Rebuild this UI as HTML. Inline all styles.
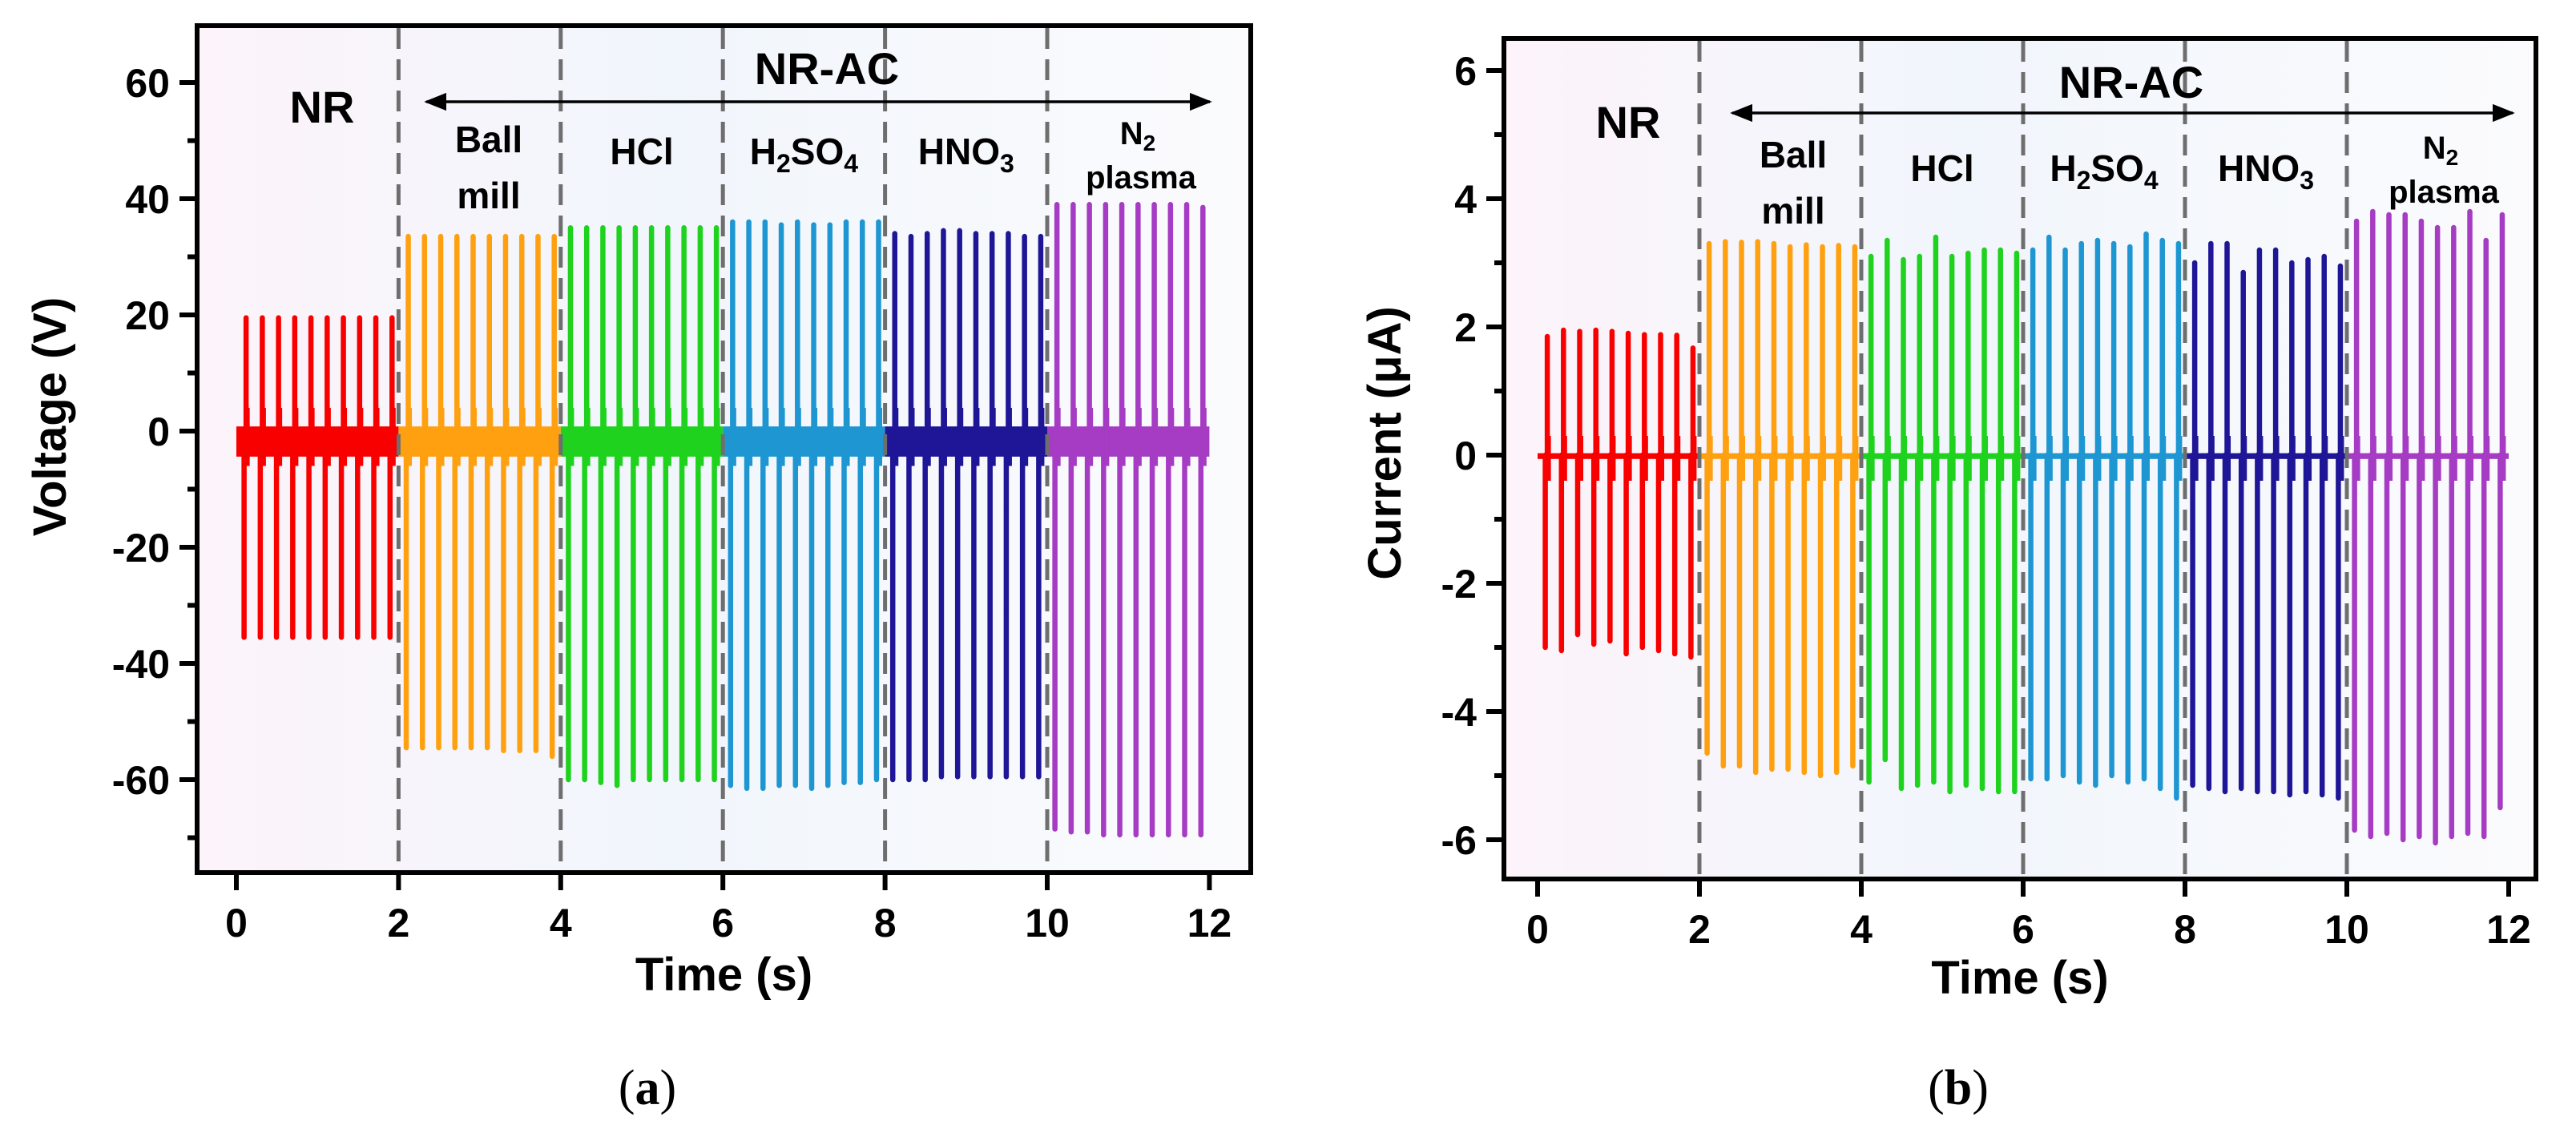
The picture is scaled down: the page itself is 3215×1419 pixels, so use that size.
<!DOCTYPE html>
<html><head><meta charset="utf-8">
<style>
html,body{margin:0;padding:0;background:#fff;}
svg{display:block;}
text{font-family:"Liberation Sans",Arial,sans-serif;font-weight:bold;fill:#000;}
.cap{font-family:"Liberation Serif",serif;}
</style></head>
<body>
<svg id="fig" width="3215" height="1419" viewBox="0 0 3215 1419" xmlns="http://www.w3.org/2000/svg">
<defs>
<linearGradient id="bg" x1="0" y1="0" x2="1" y2="0">
<stop offset="0" stop-color="#fcf4fa"/><stop offset="0.45" stop-color="#f1f6fc"/><stop offset="1" stop-color="#fbfbfd"/>
</linearGradient>
<marker id="arr" viewBox="0 0 10 10" refX="9" refY="5" markerWidth="8" markerHeight="8" orient="auto-start-reverse"><path d="M0,1 L10,5 L0,9 z" fill="#000"/></marker>
</defs>
<g id="pa"></g>
<g id="pb"></g>
</svg>
<script>
// ---- data ----
const segmentLabels = ["NR","Ball mill","HCl","H2SO4","HNO3","N2 plasma"];
const segmentColors = ["#f80000","#ffa010","#1ed21e","#1e96d2","#1e1696","#a53cc3"];
const pulseTimes = [0.12,0.32,0.52,0.72,0.92,1.12,1.32,1.52,1.72,1.92];
const xTicks = [0,2,4,6,8,10,12];
// Panel a (Voltage, V)
const voltPos = [
 [19.5,19.5,19.5,19.5,19.5,19.5,19.5,19.5,19.5,19.5],
 [33.5,33.5,33.5,33.5,33.5,33.5,33.5,33.5,33.5,33.5],
 [35,35,35,35,35,35,35,35,35,35],
 [36,36,36,35.5,36,35.5,35.5,36,36,36],
 [34,33.5,34,34.5,34.5,34,34,34,33.5,33.5],
 [39,39,39,39,39,39,39,39,39,38.5]];
const voltNeg = [
 [-35.5,-35.5,-35.5,-35.5,-35.5,-35.5,-35.5,-35.5,-35.5,-35.5],
 [-54.5,-54.5,-54.5,-54.5,-54.5,-54.5,-55,-55,-55,-56],
 [-60,-60,-60.5,-61,-60,-60,-60,-60,-60,-60],
 [-61,-61.5,-61.5,-61,-61,-61.5,-61,-60.5,-60.5,-60],
 [-60,-60,-60,-59.5,-59.5,-59.5,-59.5,-59.5,-59.5,-59.5],
 [-68.5,-69,-69,-69.5,-69.5,-69.5,-69.5,-69.5,-69.5,-69.5]];
const voltTicks = [60,40,20,0,-20,-40,-60];
// Panel b (Current, uA)
const curPos = [
 [1.85,1.95,1.93,1.95,1.93,1.9,1.88,1.88,1.87,1.67],
 [3.3,3.33,3.32,3.33,3.3,3.25,3.28,3.25,3.27,3.25],
 [3.1,3.35,3.05,3.1,3.4,3.1,3.15,3.2,3.2,3.15],
 [3.2,3.4,3.2,3.3,3.35,3.3,3.25,3.45,3.35,3.3],
 [3.0,3.3,3.3,2.85,3.2,3.2,3.0,3.05,3.1,2.95],
 [3.65,3.8,3.75,3.75,3.65,3.55,3.55,3.8,3.35,3.75]];
const curNeg = [
 [-3.0,-3.05,-2.8,-2.95,-2.9,-3.1,-3.0,-3.05,-3.1,-3.15],
 [-4.65,-4.85,-4.85,-4.95,-4.9,-4.9,-4.95,-5.0,-4.95,-4.85],
 [-5.1,-4.75,-5.2,-5.15,-5.1,-5.25,-5.15,-5.2,-5.25,-5.25],
 [-5.05,-5.05,-5.0,-5.1,-5.15,-5.0,-5.1,-5.05,-5.2,-5.35],
 [-5.15,-5.2,-5.25,-5.2,-5.25,-5.25,-5.3,-5.25,-5.3,-5.35],
 [-5.85,-5.95,-5.9,-6.0,-5.95,-6.05,-5.95,-5.9,-5.95,-5.5]];
const curTicks = [6,4,2,0,-2,-4,-6];

const NS="http://www.w3.org/2000/svg";
function mk(parent,tag,attrs,txt){const e=document.createElementNS(NS,tag);for(const k in attrs)e.setAttribute(k,attrs[k]);if(txt!==undefined)e.textContent=txt;parent.appendChild(e);return e;}

function panel(g,cfg){
 const sx=t=>cfg.x0+t*cfg.kx, sy=v=>cfg.y0-v*cfg.ky;
 const L=cfg.left,R=cfg.right,T=cfg.top,B=cfg.bottom;
 const bgr=mk(g,'rect',{x:L,y:T,width:R-L,height:B-T,fill:'url(#bg)'});
 
 
 for(let s=0;s<6;s++){
  const col=segmentColors[s];
  const sg=mk(g,'g',{});
  
  
  const t0=s*2;
  const band=mk(sg,'rect',{x:sx(t0+0.0),y:sy(cfg.bandHi),width:sx(t0+2)-sx(t0),height:sy(cfg.bandLo)-sy(cfg.bandHi),fill:col});
  
  
  for(let i=0;i<pulseTimes.length;i++){
   const t=t0+pulseTimes[i];
   const p=cfg.pos[s][i], n=cfg.neg[s][i];
   const lp=mk(sg,'line',{x1:sx(t),x2:sx(t),y1:sy(0),y2:sy(p),stroke:col,'stroke-width':6.5,'stroke-linecap':'round'});
   
   
   const ln=mk(sg,'line',{x1:sx(t-0.025),x2:sx(t-0.025),y1:sy(0),y2:sy(n),stroke:col,'stroke-width':6.5,'stroke-linecap':'round'});
   
   
   mk(sg,'line',{x1:sx(t+0.015),x2:sx(t+0.015),y1:sy(cfg.shoulder[0]),y2:sy(cfg.shoulder[1]),stroke:col,'stroke-width':6});
  }
 }
 for(const d of [2,4,6,8,10]){
  const l=mk(g,'line',{x1:sx(d),x2:sx(d),y1:T+3,y2:B-3,stroke:'#6e6e6e','stroke-width':5,'stroke-dasharray':'26 13'});
  
  
 }
 const fr=mk(g,'rect',{x:L,y:T,width:R-L,height:B-T,fill:'none',stroke:'#000','stroke-width':6});
 
 
 for(const t of xTicks){
  mk(g,'line',{x1:sx(t),x2:sx(t),y1:B,y2:B+22,stroke:'#000','stroke-width':6});
  const tl=mk(g,'text',{x:sx(t),y:B+80,'text-anchor':'middle','font-size':50},String(t));
  
  
 }
 for(const v of cfg.ticks){
  mk(g,'line',{x1:L-22,x2:L,y1:sy(v),y2:sy(v),stroke:'#000','stroke-width':6});
  const yl=mk(g,'text',{x:L-34,y:sy(v)+18,'text-anchor':'end','font-size':50},String(v));
  
  
 }
 for(const v of cfg.minor){mk(g,'line',{x1:L-12,x2:L,y1:sy(v),y2:sy(v),stroke:'#000','stroke-width':6});}
 const xt=mk(g,'text',{x:(L+R)/2,y:cfg.xTitleY,'text-anchor':'middle','font-size':58},'Time (s)');
 
 
 const yt=mk(g,'text',{x:0,y:0,'text-anchor':'middle','font-size':58,transform:`translate(${cfg.yTitleX},${cfg.yTitleY}) rotate(-90)`},cfg.yTitle);
 
 
 const cp=mk(g,'text',{x:cfg.capX,y:1378,'text-anchor':'middle','font-size':62,'font-weight':'normal',class:'cap'},'');
 
 
 cp.innerHTML='<tspan font-weight="normal">(</tspan><tspan font-weight="bold">'+cfg.cap+'</tspan><tspan font-weight="normal">)</tspan>';
 const a=cfg.ann;
 const ann=(x,y,size,html,name)=>{const e=mk(g,'text',{x:x,y:y,'text-anchor':'middle','font-size':size});e.innerHTML=html;return e;};
 ann(a.nr[0],a.nr[1],56,'NR','nr-label');
 ann(a.nrac[0],a.nrac[1],56,'NR-AC','nr-ac-label');
 const ar=mk(g,'line',{x1:a.arrow[0],x2:a.arrow[1],y1:a.arrow[2],y2:a.arrow[2],stroke:'#000','stroke-width':3.5,'marker-start':'url(#arr)','marker-end':'url(#arr)'});
 
 
 ann(a.ball[0],a.ball[1],46,'Ball','ball-mill-label');
 ann(a.ball[0],a.ball[1]+70,46,'mill','ball-mill-label-2');
 ann(sx(5),a.row,46,'HCl','hcl-label');
 ann(sx(7),a.row,46,'H<tspan font-size="32" dy="10">2</tspan><tspan dy="-10">SO</tspan><tspan font-size="32" dy="10">4</tspan>','h2so4-label');
 ann(sx(9),a.row,46,'HNO<tspan font-size="32" dy="10">3</tspan>','hno3-label');
 ann(a.n2[0],a.n2[1],40,'N<tspan font-size="28" dy="8">2</tspan>','n2-label');
 ann(a.n2[0]+4,a.n2[1]+55,40,'plasma','plasma-label');
}

panel(document.getElementById('pa'),{
 left:246,right:1561,top:32,bottom:1089,x0:295,kx:101.2,y0:538,ky:7.25,
 pos:voltPos,neg:voltNeg,bandHi:0.8,bandLo:-4.4,shoulder:[4,-6],
 ticks:voltTicks,minor:[50,30,10,-10,-30,-50,-70],
 xTitleY:1236,yTitle:'Voltage (V)',yTitleX:82,yTitleY:520,capX:808,cap:'a',
 ann:{nr:[402,153],nrac:[1032,105],arrow:[532,1510,127],ball:[610,190],row:205,n2:[1420,180]}
});
panel(document.getElementById('pb'),{
 left:1877,right:3165,top:48,bottom:1097,x0:1919,kx:101,y0:568,ky:80,
 pos:curPos,neg:curNeg,bandHi:0.03,bandLo:-0.06,shoulder:[0.3,-0.4],
 ticks:curTicks,minor:[5,3,1,-1,-3,-5],
 xTitleY:1240,yTitle:'Current (\u03BCA)',yTitleX:1748,yTitleY:553,capX:2444,cap:'b',
 ann:{nr:[2032,172],nrac:[2660,122],arrow:[2162,3136,141],ball:[2238,209],row:226,n2:[3046,198]}
});
</script>
</body></html>
